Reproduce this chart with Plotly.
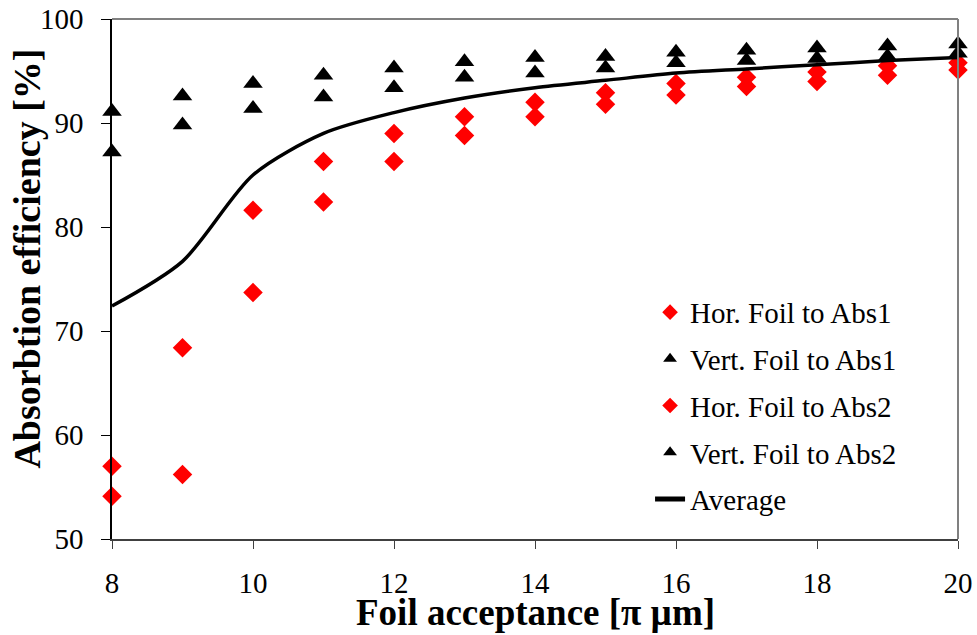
import plotly.graph_objects as go

x_vals = [8, 9, 10, 11, 12, 13, 14, 15, 16, 17, 18, 19, 20]
hor_abs1 = [57.0, 68.4, 81.6, 86.3, 89.0, 90.6, 92.0, 92.9, 93.8, 94.4, 94.9, 95.5, 95.8]
hor_abs2 = [54.1, 56.2, 73.7, 82.4, 86.3, 88.8, 90.6, 91.8, 92.7, 93.5, 94.0, 94.6, 95.1]
vert_abs1 = [91.1, 92.6, 93.8, 94.6, 95.3, 95.9, 96.3, 96.4, 96.8, 97.0, 97.2, 97.4, 97.6]
vert_abs2 = [87.2, 89.8, 91.4, 92.5, 93.4, 94.4, 94.8, 95.3, 95.8, 96.0, 96.2, 96.4, 96.7]
average = [72.4, 76.7, 85.0, 89.0, 91.0, 92.4, 93.4, 94.1, 94.8, 95.2, 95.6, 96.0, 96.3]

x_ticks = [8, 10, 12, 14, 16, 18, 20]
y_ticks = [50, 60, 70, 80, 90, 100]

FONT = "Liberation Serif"
RED = "#FF0000"

fig = go.Figure()
fig.add_trace(go.Scatter(x=x_vals, y=hor_abs1, mode="markers", name="Hor. Foil to Abs1",
                         marker=dict(symbol="diamond", size=15, color=RED),
                         cliponaxis=False, legendgroup="a"))
fig.add_trace(go.Scatter(x=x_vals, y=vert_abs1, mode="markers", name="Vert. Foil to Abs1",
                         marker=dict(symbol="triangle-up", size=17, color="black"),
                         cliponaxis=False, legendgroup="b"))
fig.add_trace(go.Scatter(x=x_vals, y=hor_abs2, mode="markers", name="Hor. Foil to Abs2",
                         marker=dict(symbol="diamond", size=15, color=RED),
                         cliponaxis=False, legendgroup="c"))
fig.add_trace(go.Scatter(x=x_vals, y=vert_abs2, mode="markers", name="Vert. Foil to Abs2",
                         marker=dict(symbol="triangle-up", size=17, color="black"),
                         cliponaxis=False, legendgroup="d"))
fig.add_trace(go.Scatter(x=x_vals, y=average, mode="lines", name="Average",
                         line=dict(color="black", width=3.5, shape="spline", smoothing=0.8),
                         cliponaxis=False, legendgroup="e"))

fig.update_layout(
    width=977, height=635,
    margin=dict(l=112, r=19, t=19, b=96, autoexpand=False),
    paper_bgcolor="white", plot_bgcolor="white",
    showlegend=True,
    legend=dict(x=0.636, y=0.485, xanchor="left", yanchor="top",
                font=dict(family=FONT, size=29, color="black"),
                bgcolor="rgba(0,0,0,0)", tracegroupgap=6,
                traceorder="grouped", itemsizing="constant"),
    xaxis=dict(range=[8, 20], tickvals=x_ticks, ticktext=[str(v) for v in x_ticks],
               automargin=False,
               showgrid=False, zeroline=False, showline=True, linecolor="#404040", linewidth=2,
               ticks="outside", ticklen=8, tickcolor="#404040", tickwidth=1,
               ticklabelstandoff=9,
               tickfont=dict(family=FONT, size=29, color="black")),
    yaxis=dict(range=[50, 100], tickvals=y_ticks, ticktext=[str(v) for v in y_ticks],
               automargin=False,
               showgrid=False, zeroline=False, showline=True, linecolor="black", linewidth=1.5,
               ticks="outside", ticklen=9, tickcolor="black", tickwidth=1,
               ticklabelstandoff=12,
               tickfont=dict(family=FONT, size=29, color="black")),
    annotations=[
        dict(text="<b>Absorbtion efficiency [%]</b>", textangle=-90,
             xref="paper", yref="paper", x=-0.1, y=0.54,
             xanchor="center", yanchor="middle", showarrow=False,
             font=dict(family=FONT, size=38, color="black")),
        dict(text="<b>Foil acceptance [π µm]</b>",
             xref="paper", yref="paper", x=0.5, y=-0.142,
             xanchor="center", yanchor="middle", showarrow=False,
             font=dict(family=FONT, size=37, color="black")),
    ],
    shapes=[
        dict(type="line", xref="paper", yref="paper", x0=0, x1=1, y0=1, y1=1,
             line=dict(color="#808080", width=2)),
        dict(type="line", xref="paper", yref="paper", x0=1, x1=1, y0=0, y1=1,
             line=dict(color="#808080", width=2)),
    ],
)

fig.write_html("out.html")
